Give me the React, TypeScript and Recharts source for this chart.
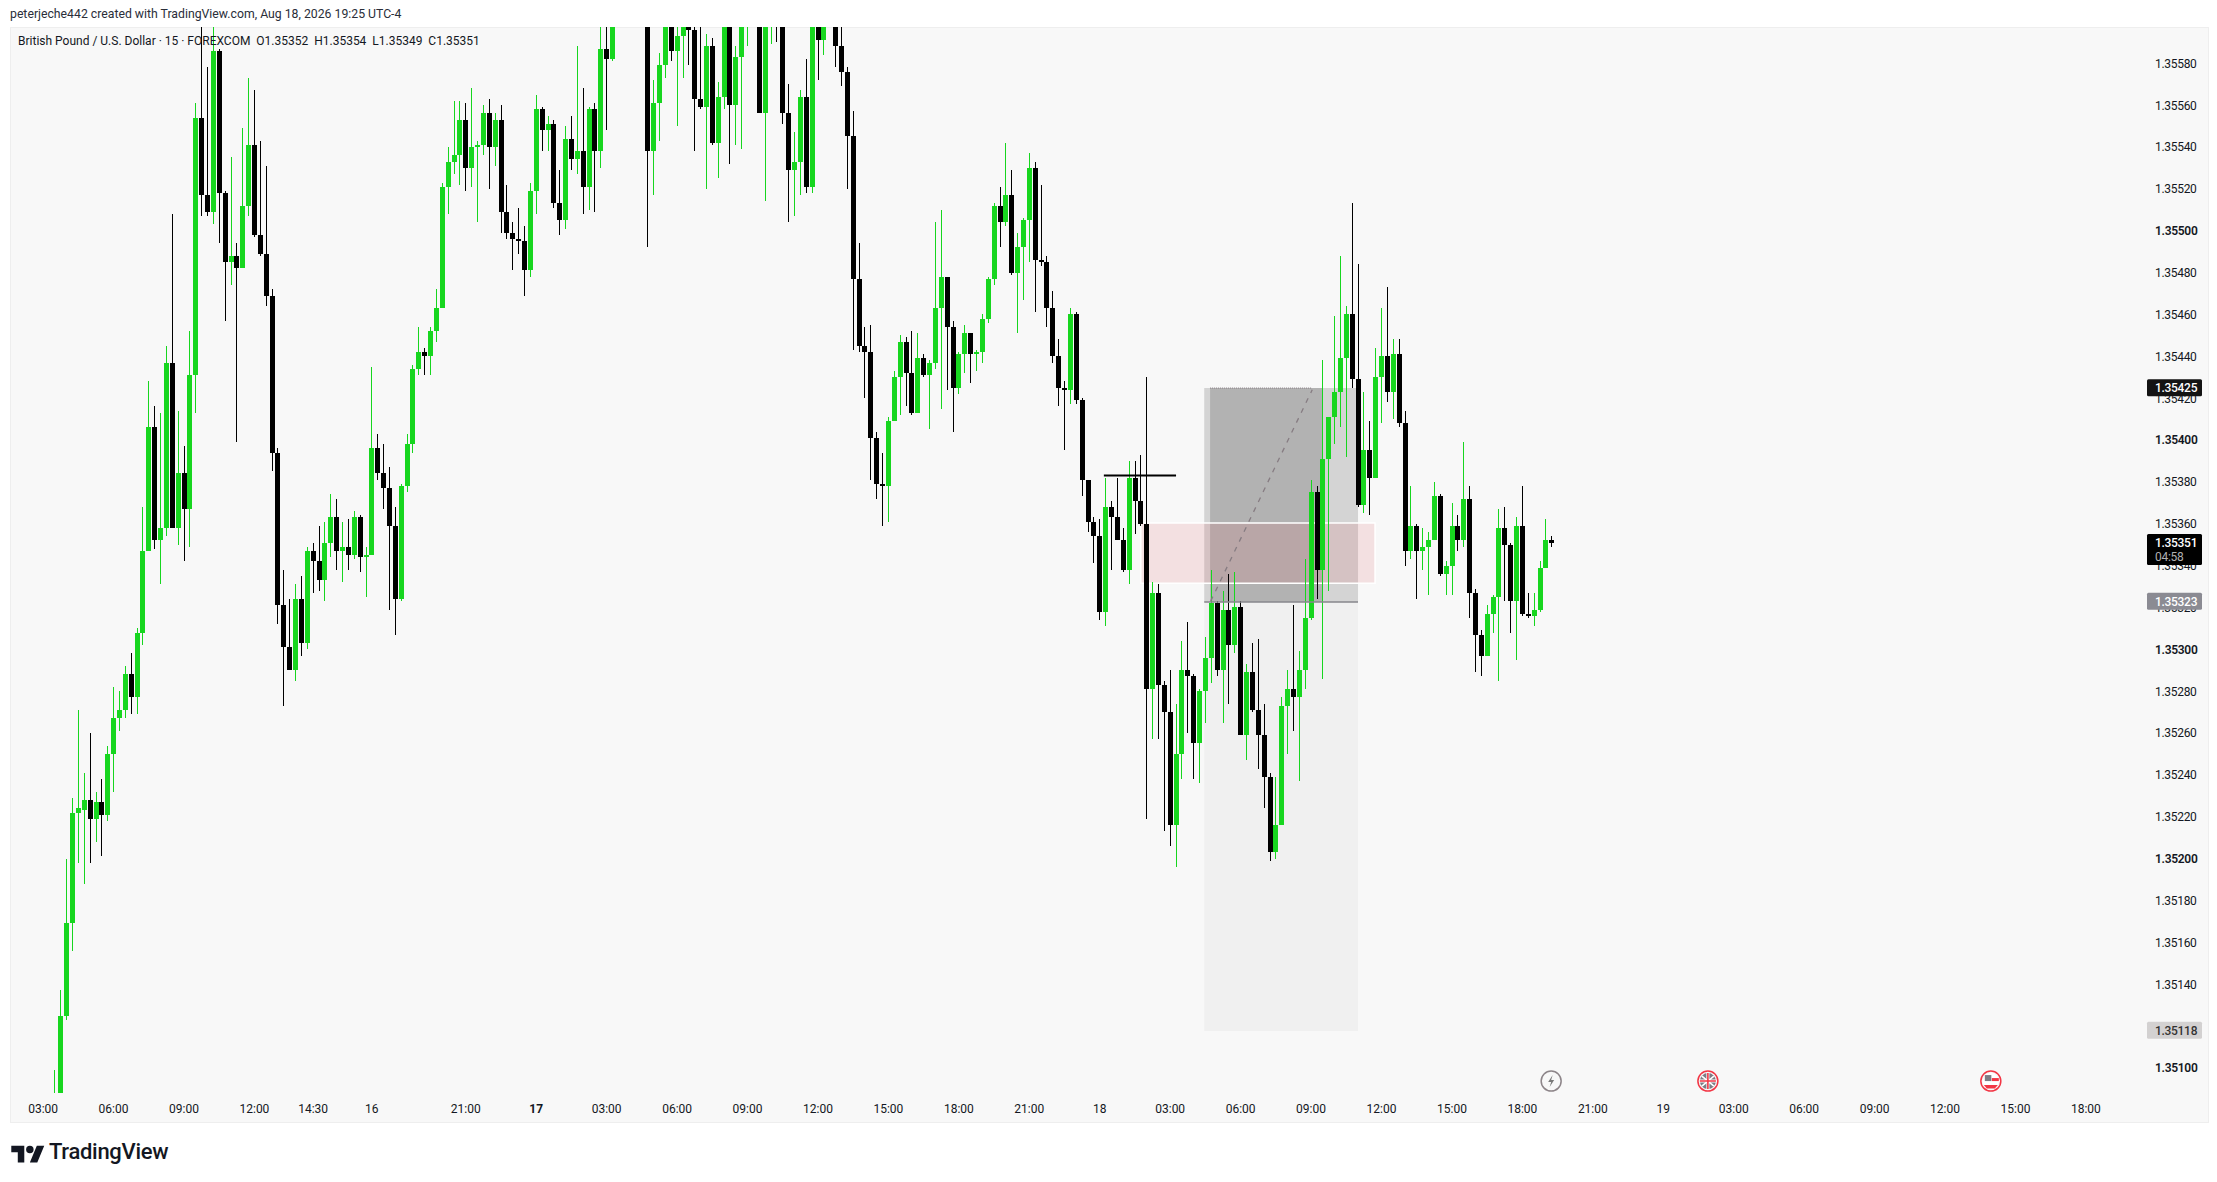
import React from "react";
import { ComposedChart, Bar, XAxis, YAxis, ReferenceArea, ReferenceLine, ReferenceDot } from "recharts";

// prices are stored as points: 35352 means 1.35352. slot = number of 15 minute bars from the 03:00 label
const firstSlot = 2;

const opens = [
  35060, 35080, 35125, 35169, 35222, 35223, 35228, 35219, 35227, 35221,
  35250, 35267, 35271, 35288, 35277, 35308, 35347, 35406, 35352, 35358,
  35437, 35358, 35384, 35367, 35431, 35554, 35517, 35509, 35586, 35518,
  35485, 35488, 35482, 35512, 35541, 35498, 35489, 35469, 35394, 35321,
  35301, 35290, 35324, 35303, 35347, 35342, 35333, 35351, 35363, 35347,
  35349, 35345, 35363, 35344, 35345, 35396, 35384, 35377, 35359, 35324,
  35378, 35398, 35434, 35442, 35440, 35452, 35463, 35521, 35533, 35536,
  35553, 35530, 35540, 35541, 35556, 35540, 35553, 35509, 35499, 35496,
  35495, 35481, 35519, 35558, 35548, 35551, 35513, 35505, 35544, 35534,
  35538, 35521, 35558, 35538, 35587, 35582, 35600, 35630, 35620, 35645,
  35640, 35650, 35538, 35561, 35579, 35601, 35586, 35593, 35603, 35596,
  35563, 35559, 35588, 35542, 35564, 35598, 35560, 35583, 35600, 35620,
  35610, 35556, 35600, 35640, 35610, 35556, 35529, 35533, 35564, 35521,
  35600, 35591, 35610, 35615, 35588, 35576, 35545, 35477, 35445, 35442,
  35401, 35379, 35378, 35409, 35430, 35447, 35432, 35413, 35439, 35431,
  35437, 35463, 35478, 35454, 35425, 35441, 35451, 35441, 35442, 35458,
  35477, 35512, 35504, 35517, 35480, 35492, 35505, 35530, 35486, 35485,
  35463, 35440, 35425, 35424, 35460, 35419, 35381, 35361, 35354, 35318,
  35368, 35363, 35352, 35338, 35382, 35371, 35360, 35281, 35327, 35283,
  35270, 35216, 35250, 35290, 35287, 35255, 35280, 35296, 35322, 35290,
  35319, 35302, 35320, 35259, 35289, 35271, 35259, 35239, 35203, 35216,
  35273, 35281, 35277, 35290, 35315, 35375, 35338, 35391, 35411, 35423,
  35439, 35460, 35429, 35369, 35395, 35382, 35430, 35440, 35423, 35441,
  35408, 35347, 35359, 35347, 35349, 35352, 35373, 35336, 35340, 35359,
  35352, 35372, 35327, 35307, 35297, 35317, 35325, 35358, 35350, 35323,
  35359, 35317, 35316, 35319, 35339, 35352,
];

const highs = [
  35099, 35137, 35200, 35229, 35271, 35241, 35260, 35232, 35238, 35254,
  35282, 35280, 35292, 35298, 35310, 35368, 35428, 35416, 35413, 35445,
  35508, 35414, 35397, 35452, 35561, 35605, 35578, 35605, 35587, 35519,
  35535, 35494, 35549, 35573, 35567, 35543, 35531, 35472, 35396, 35338,
  35324, 35331, 35335, 35349, 35351, 35359, 35361, 35374, 35372, 35361,
  35362, 35366, 35364, 35349, 35435, 35403, 35398, 35387, 35368, 35379,
  35403, 35436, 35454, 35444, 35454, 35472, 35523, 35540, 35562, 35562,
  35561, 35568, 35543, 35560, 35563, 35556, 35560, 35522, 35504, 35511,
  35502, 35523, 35565, 35559, 35555, 35553, 35529, 35550, 35555, 35588,
  35568, 35559, 35561, 35605, 35605, 35620, 35640, 35650, 35660, 35670,
  35665, 35660, 35572, 35585, 35612, 35615, 35605, 35610, 35612, 35600,
  35602, 35594, 35592, 35571, 35608, 35610, 35588, 35610, 35630, 35640,
  35630, 35620, 35640, 35650, 35620, 35570, 35547, 35567, 35582, 35612,
  35612, 35615, 35630, 35630, 35602, 35578, 35557, 35494, 35454, 35455,
  35404, 35394, 35411, 35433, 35450, 35449, 35452, 35451, 35441, 35438,
  35504, 35510, 35478, 35457, 35442, 35455, 35451, 35443, 35460, 35478,
  35513, 35521, 35542, 35529, 35499, 35506, 35537, 35533, 35522, 35488,
  35471, 35448, 35428, 35463, 35461, 35420, 35381, 35363, 35362, 35382,
  35371, 35382, 35358, 35390, 35390, 35393, 35430, 35332, 35331, 35285,
  35290, 35274, 35304, 35313, 35288, 35281, 35306, 35338, 35323, 35328,
  35336, 35337, 35323, 35293, 35303, 35305, 35274, 35241, 35239, 35277,
  35290, 35321, 35299, 35343, 35381, 35378, 35438, 35411, 35459, 35488,
  35464, 35513, 35484, 35423, 35409, 35444, 35463, 35473, 35448, 35448,
  35414, 35378, 35360, 35358, 35356, 35380, 35374, 35342, 35370, 35364,
  35399, 35378, 35329, 35309, 35321, 35326, 35367, 35368, 35351, 35363,
  35378, 35327, 35327, 35342, 35362, 35354,
];

const lows = [
  35050, 35075, 35123, 35156, 35198, 35188, 35198, 35208, 35201, 35218,
  35232, 35261, 35267, 35269, 35269, 35302, 35347, 35348, 35331, 35354,
  35358, 35350, 35342, 35349, 35413, 35507, 35507, 35503, 35494, 35457,
  35474, 35399, 35482, 35507, 35497, 35488, 35464, 35385, 35312, 35273,
  35290, 35285, 35297, 35300, 35327, 35328, 35323, 35344, 35338, 35332,
  35338, 35343, 35337, 35325, 35345, 35381, 35367, 35319, 35307, 35323,
  35375, 35394, 35431, 35431, 35431, 35447, 35463, 35508, 35527, 35522,
  35519, 35521, 35504, 35536, 35520, 35531, 35499, 35496, 35481, 35489,
  35469, 35478, 35508, 35538, 35538, 35511, 35498, 35501, 35529, 35527,
  35508, 35510, 35509, 35530, 35548, 35581, 35599, 35610, 35610, 35625,
  35620, 35492, 35517, 35543, 35573, 35581, 35550, 35573, 35579, 35538,
  35558, 35520, 35541, 35525, 35558, 35532, 35541, 35539, 35588, 35600,
  35556, 35514, 35589, 35590, 35551, 35504, 35507, 35517, 35518, 35518,
  35572, 35584, 35600, 35578, 35569, 35520, 35443, 35442, 35420, 35381,
  35372, 35359, 35361, 35409, 35412, 35416, 35412, 35413, 35430, 35405,
  35434, 35415, 35424, 35404, 35422, 35432, 35427, 35433, 35437, 35456,
  35474, 35492, 35502, 35479, 35451, 35467, 35485, 35461, 35483, 35454,
  35437, 35416, 35395, 35417, 35417, 35373, 35356, 35341, 35314, 35311,
  35338, 35352, 35337, 35331, 35355, 35359, 35219, 35257, 35257, 35213,
  35206, 35196, 35238, 35260, 35238, 35236, 35265, 35284, 35287, 35265,
  35274, 35298, 35259, 35247, 35270, 35243, 35224, 35199, 35200, 35216,
  35250, 35261, 35237, 35281, 35314, 35324, 35286, 35328, 35398, 35406,
  35392, 35425, 35368, 35365, 35364, 35382, 35408, 35418, 35410, 35406,
  35340, 35343, 35324, 35338, 35326, 35352, 35335, 35326, 35326, 35347,
  35349, 35315, 35289, 35287, 35297, 35308, 35285, 35323, 35308, 35295,
  35316, 35315, 35311, 35318, 35339, 35349,
];

const closes = [
  35080, 35125, 35169, 35222, 35224, 35228, 35219, 35227, 35221, 35250,
  35267, 35271, 35288, 35277, 35308, 35347, 35406, 35352, 35358, 35437,
  35358, 35384, 35367, 35431, 35554, 35517, 35509, 35586, 35518, 35485,
  35488, 35482, 35512, 35541, 35498, 35489, 35469, 35394, 35321, 35301,
  35290, 35324, 35303, 35347, 35342, 35333, 35351, 35363, 35347, 35349,
  35345, 35363, 35344, 35345, 35396, 35384, 35377, 35359, 35324, 35378,
  35398, 35434, 35442, 35440, 35452, 35463, 35521, 35533, 35536, 35553,
  35530, 35540, 35541, 35556, 35540, 35553, 35509, 35499, 35496, 35495,
  35481, 35519, 35558, 35548, 35551, 35513, 35505, 35544, 35534, 35538,
  35521, 35558, 35538, 35587, 35582, 35600, 35630, 35620, 35645, 35640,
  35650, 35538, 35561, 35579, 35601, 35586, 35593, 35601, 35596, 35563,
  35559, 35588, 35542, 35564, 35598, 35560, 35583, 35598, 35620, 35610,
  35556, 35598, 35630, 35610, 35556, 35529, 35533, 35564, 35521, 35598,
  35591, 35598, 35620, 35588, 35576, 35545, 35477, 35445, 35442, 35401,
  35379, 35378, 35409, 35430, 35447, 35432, 35413, 35439, 35431, 35437,
  35463, 35478, 35454, 35425, 35441, 35451, 35441, 35442, 35458, 35477,
  35512, 35504, 35517, 35480, 35492, 35505, 35530, 35486, 35485, 35463,
  35440, 35425, 35424, 35460, 35419, 35381, 35361, 35354, 35318, 35368,
  35363, 35352, 35338, 35382, 35371, 35360, 35281, 35327, 35283, 35270,
  35216, 35250, 35290, 35287, 35255, 35280, 35296, 35322, 35290, 35319,
  35302, 35320, 35259, 35289, 35271, 35259, 35239, 35203, 35216, 35273,
  35281, 35277, 35290, 35315, 35375, 35338, 35391, 35411, 35423, 35439,
  35460, 35429, 35369, 35395, 35382, 35430, 35440, 35423, 35441, 35408,
  35347, 35359, 35347, 35349, 35352, 35373, 35336, 35340, 35359, 35352,
  35372, 35327, 35307, 35297, 35317, 35325, 35358, 35350, 35323, 35359,
  35317, 35316, 35319, 35339, 35352, 35351,
];

const priceTicks = [
  35100, 35120, 35140, 35160, 35180, 35200, 35220, 35240, 35260, 35280, 35300, 35320, 35340,
  35360, 35380, 35400, 35420, 35440, 35460, 35480, 35500, 35520, 35540, 35560, 35580,
];

const timeSlots = [
  0, 12, 24, 36, 46, 56, 72, 84, 96, 108, 120, 132, 144, 156, 168, 180, 192, 204, 216, 228, 240,
  252, 264, 276, 288, 300, 312, 324, 336, 348,
];
const timeLabels = [
  "03:00", "06:00", "09:00", "12:00", "14:30", "16", "21:00", "17", "03:00", "06:00", "09:00",
  "12:00", "15:00", "18:00", "21:00", "18", "03:00", "06:00", "09:00", "12:00", "15:00", "18:00",
  "21:00", "19", "03:00", "06:00", "09:00", "12:00", "15:00", "18:00",
];

const candles = opens.map((open, i) => ({
  slot: firstSlot + i,
  open,
  close: closes[i],
  range: [lows[i], highs[i]],
}));

const GREEN = "#17d61f";
const BLACK = "#000000";
const FONT = "Roboto, 'Liberation Sans', sans-serif";

const SLOT_MIN = -5.64;
const SLOT_MAX = 356.7;
const PRICE_MIN = 35088;
const PRICE_MAX = 35597.3;

function Candle(props: any) {
  const { x, y, width, height, payload } = props;
  const [low, high] = payload.range;
  const perPoint = height / (high - low);
  const cx = Math.round(x + width / 2);
  const bodyTop = y + (high - Math.max(payload.open, payload.close)) * perPoint;
  const bodyBottom = y + (high - Math.min(payload.open, payload.close)) * perPoint;
  const color = payload.close >= payload.open ? GREEN : BLACK;
  return (
    <g shapeRendering="crispEdges">
      <rect x={cx} y={y} width={1} height={height} fill={color} />
      <rect x={cx - 2} y={bodyTop} width={5} height={Math.max(bodyBottom - bodyTop, 2)} fill={color} />
    </g>
  );
}

function PriceTick({ x, y, payload }: any) {
  return (
    <text x={x} y={y} dy={4.5} fontFamily={FONT} fontSize={12} letterSpacing={-0.3} fill="#131722"
      fontWeight={payload.value % 100 === 0 ? 600 : 400}>
      {`1.${payload.value}`}
    </text>
  );
}

function TimeTick({ x, y, payload }: any) {
  const label = timeLabels[timeSlots.indexOf(payload.value)];
  return (
    <text x={x} y={y} dy={11.5} textAnchor="middle" fontFamily={FONT} fontSize={12} fill="#131722"
      fontWeight={label === "17" ? 700 : 400}>
      {label}
    </text>
  );
}

function PriceTag({ cx, cy, bg, color, text, sub }: any) {
  const h = sub ? 31 : 17;
  return (
    <g>
      <rect x={cx + 10} y={cy - 8.5} width={55} height={h} rx={1.5} fill={bg} />
      <text x={cx + 18} y={cy + 4.5} fontFamily={FONT} fontSize={12} letterSpacing={-0.3} fontWeight={500} fill={color}>{text}</text>
      {sub && <text x={cx + 18} y={cy + 18.5} fontFamily={FONT} fontSize={12} letterSpacing={-0.3} fill="#b0b0b0">{sub}</text>}
    </g>
  );
}

function EventIcon({ cx, cy, kind }: any) {
  const ring = kind === "bolt" ? "#8d8589" : "#f23645";
  return (
    <g>
      <circle cx={cx} cy={cy} r={10} fill="#f8f8f8" stroke={ring} strokeWidth={1.5} />
      {kind === "bolt" && (
        <path d={`M${cx + 1.5} ${cy - 6} L${cx - 3} ${cy + 1} L${cx} ${cy + 1} L${cx - 1.5} ${cy + 6} L${cx + 3} ${cy - 1} L${cx} ${cy - 1} Z`} fill="#7a7a7a" />
      )}
      {kind === "uk" && (
        <g>
          <circle cx={cx} cy={cy} r={8} fill="#7c7c85" />
          <path d={`M${cx - 6} ${cy - 5} L${cx + 6} ${cy + 5} M${cx + 6} ${cy - 5} L${cx - 6} ${cy + 5}`} stroke="#ffffff" strokeWidth={1.6} />
          <path d={`M${cx} ${cy - 8} V${cy + 8} M${cx - 8} ${cy} H${cx + 8}`} stroke="#ffffff" strokeWidth={3} />
          <path d={`M${cx} ${cy - 8} V${cy + 8} M${cx - 8} ${cy} H${cx + 8}`} stroke="#f23645" strokeWidth={1.6} />
        </g>
      )}
      {kind === "us" && (
        <g>
          <circle cx={cx} cy={cy} r={8} fill="#ffffff" />
          <rect x={cx - 6} y={cy - 6} width={6.5} height={6} fill="#7c7c85" />
          <rect x={cx + 1} y={cy - 3} width={7} height={3} fill="#f23645" />
          <path d={`M${cx - 7} ${cy + 4} H${cx + 7} L${cx + 4} ${cy + 7.5} H${cx - 4} Z`} fill="#f23645" />
        </g>
      )}
    </g>
  );
}

const textStyle: React.CSSProperties = { position: "absolute", fontFamily: FONT, whiteSpace: "pre", color: "#131722" };

export default function App() {
  return (
    <div style={{ position: "absolute", left: 0, top: 0, width: 2217, height: 1182, background: "#ffffff" }}>
      <div style={{ position: "absolute", left: 10, top: 27, width: 2197, height: 1094, background: "#f8f8f8", border: "1px solid #eeeeee", boxSizing: "content-box" }} />
      <ComposedChart
        width={2217}
        height={1182}
        data={candles}
        margin={{ top: 27, right: 0, bottom: 60, left: 10 }}
        style={{ position: "absolute", left: 0, top: 0 }}
      >
        <XAxis
          dataKey="slot"
          type="number"
          domain={[SLOT_MIN, SLOT_MAX]}
          allowDataOverflow
          ticks={timeSlots}
          interval={0}
          axisLine={false}
          tickLine={false}
          height={29}
          tick={TimeTick}
        />
        <YAxis
          orientation="right"
          type="number"
          domain={[PRICE_MIN, PRICE_MAX]}
          allowDataOverflow
          ticks={priceTicks}
          interval={0}
          axisLine={false}
          tickLine={false}
          width={80}
          tickMargin={12}
          tick={PriceTick}
        />
        {/* position box */}
        <ReferenceArea x1={197.8} x2={224} y1={35322.6} y2={35424.8} fill="#d4d4d4" fillOpacity={1} stroke="none" />
        <ReferenceArea x1={198.8} x2={217.9} y1={35322.6} y2={35424.8} fill="#b2b2b2" fillOpacity={1} stroke="none" />
        <ReferenceArea x1={197.8} x2={224} y1={35117.6} y2={35322.6} fill="#f0f0f0" fillOpacity={1} stroke="none" />
        <ReferenceArea x1={187} x2={226.9} y1={35331.6} y2={35360.3} fill="#da6b6e" fillOpacity={0.17} stroke="#ffffff" strokeWidth={1.5} />
        <ReferenceLine segment={[{ x: 197.8, y: 35322.6 }, { x: 224, y: 35322.6 }]} stroke="#87878c" strokeWidth={1.5} />
        <ReferenceLine segment={[{ x: 198.8, y: 35424.8 }, { x: 216, y: 35424.8 }]} stroke="#867c82" strokeDasharray="1 1" />
        <ReferenceLine segment={[{ x: 198.9, y: 35323 }, { x: 216.2, y: 35424 }]} stroke="#867c82" strokeWidth={1.3} strokeDasharray="5 6" />
        <Bar dataKey="range" barSize={5} shape={Candle} isAnimationActive={false} />
        <ReferenceLine segment={[{ x: 180.7, y: 35383 }, { x: 193, y: 35383 }]} stroke="#000000" strokeWidth={2} />
      </ComposedChart>
      {/* second layer with the same scales, so the price tags sit over the axis labels */}
      <ComposedChart
        width={2217}
        height={1182}
        data={candles}
        margin={{ top: 27, right: 80, bottom: 89, left: 10 }}
        style={{ position: "absolute", left: 0, top: 0 }}
      >
        <XAxis dataKey="slot" type="number" domain={[SLOT_MIN, SLOT_MAX]} allowDataOverflow hide />
        <YAxis type="number" domain={[PRICE_MIN, PRICE_MAX]} allowDataOverflow hide />
        <ReferenceDot x={256.9} y={35093.7} ifOverflow="visible" shape={(p: any) => <EventIcon cx={p.cx} cy={p.cy} kind="bolt" />} />
        <ReferenceDot x={283.6} y={35093.7} ifOverflow="visible" shape={(p: any) => <EventIcon cx={p.cx} cy={p.cy} kind="uk" />} />
        <ReferenceDot x={331.8} y={35093.7} ifOverflow="visible" shape={(p: any) => <EventIcon cx={p.cx} cy={p.cy} kind="us" />} />
        <ReferenceDot x={SLOT_MAX} y={35425} ifOverflow="visible" shape={(p: any) => <PriceTag cx={p.cx} cy={p.cy} bg="#131313" color="#ffffff" text="1.35425" />} />
        <ReferenceDot x={SLOT_MAX} y={35351} ifOverflow="visible" shape={(p: any) => <PriceTag cx={p.cx} cy={p.cy} bg="#000000" color="#ffffff" text="1.35351" sub="04:58" />} />
        <ReferenceDot x={SLOT_MAX} y={35323} ifOverflow="visible" shape={(p: any) => <PriceTag cx={p.cx} cy={p.cy} bg="#8b8b93" color="#ffffff" text="1.35323" />} />
        <ReferenceDot x={SLOT_MAX} y={35118} ifOverflow="visible" shape={(p: any) => <PriceTag cx={p.cx} cy={p.cy} bg="#d3d1d1" color="#333333" text="1.35118" />} />
      </ComposedChart>
      <div style={{ ...textStyle, left: 10, top: 7, fontSize: 12.25, color: "#2a2e39" }}>
        peterjeche442 created with TradingView.com, Aug 18, 2026 19:25 UTC-4
      </div>
      <div style={{ ...textStyle, left: 18, top: 34, fontSize: 12 }}>
        {"British Pound / U.S. Dollar · 15 · FOREXCOM  O1.35352  H1.35354  L1.35349  C1.35351"}
      </div>
      <svg style={{ position: "absolute", left: 11, top: 1142 }} width={34} height={26} viewBox="0 0 36 28">
        <path d="M14 22H7V11H0V4h14v18zM28 22h-8l7.5-18h8L28 22z" fill="#131722" />
        <circle cx={20} cy={8} r={4} fill="#131722" />
      </svg>
      <div style={{ ...textStyle, left: 49, top: 1139, fontSize: 22, fontWeight: 500, letterSpacing: -0.3 }}>TradingView</div>
    </div>
  );
}
